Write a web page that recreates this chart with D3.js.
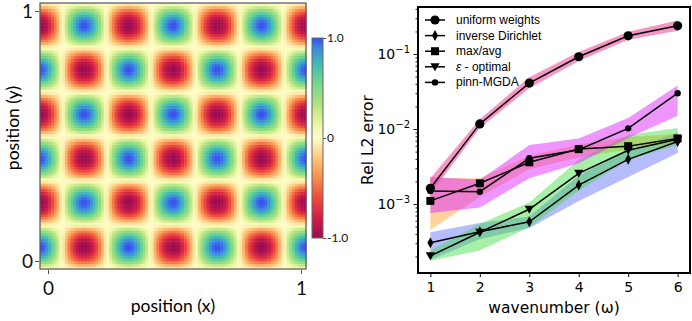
<!DOCTYPE html>
<html lang="en">
<head>
<meta charset="UTF-8">
<title>wavenumber error</title>
<style>
*{margin:0;padding:0;}
body{background:#fff;}
svg{display:block;}
</style>
</head>
<body>
<div id="container"></div>
<script src="https://cdn.jsdelivr.net/npm/d3@7"></script>
<script>
// ---- right panel data ----
var wavenumbers = [1, 2, 3, 4, 5, 6]
var xTickLabels = ['1', '2', '3', '4', '5', '6']
var uniformMean = [1.62e-3, 1.17e-2, 4.1e-2, 9.2e-2, 0.175, 0.238]
var uniformLow  = [1.35e-3, 1.03e-2, 3.5e-2, 8.1e-2, 0.155, 0.205]
var uniformHigh = [2.2e-3, 1.35e-2, 4.9e-2, 0.106, 0.198, 0.28]
var invDirMean  = [3.05e-4, 4.27e-4, 5.8e-4, 1.79e-3, 3.94e-3, 6.8e-3]
var invDirLow   = [1.8e-4, 3.4e-4, 4.8e-4, 1.1e-3, 2.3e-3, 4.8e-3]
var invDirHigh  = [4.2e-4, 5.6e-4, 6.8e-4, 2.4e-3, 5.2e-3, 9.0e-3]
var maxAvgMean  = [1.1e-3, 1.89e-3, 3.6e-3, 5.4e-3, 5.9e-3, 7.5e-3]
var maxAvgLow   = [4.5e-4, 1.25e-3, 2.9e-3, 4.2e-3, 5.3e-3, 6.5e-3]
var maxAvgHigh  = [2.2e-3, 2.2e-3, 4.4e-3, 6.2e-3, 7.8e-3, 8.6e-3]
var epsOptMean  = [2.03e-4, 4.2e-4, 8.5e-4, 2.56e-3, 5.2e-3, 7.3e-3]
var epsOptLow   = [1.75e-4, 2.4e-4, 4.9e-4, 1.5e-3, 3.9e-3, 6.1e-3]
var epsOptHigh  = [2.4e-4, 5.4e-4, 1.05e-3, 3.9e-3, 8.3e-3, 1.03e-2]
var pinnMean    = [1.49e-3, 1.46e-3, 4.07e-3, 5.3e-3, 1.02e-2, 3.0e-2]
var pinnLow     = [7.6e-4, 9.0e-4, 2.2e-3, 3.5e-3, 7.6e-3, 1.5e-2]
var pinnHigh    = [2.3e-3, 2.1e-3, 6.1e-3, 7.5e-3, 1.4e-2, 3.8e-2]
var seriesNames = ['uniform weights', 'inverse Dirichlet', 'max/avg', 'ε - optimal', 'pinn-MGDA']
var yMajorTicks = [1e-3, 1e-2, 1e-1]

// ---- left panel: field u(x,y) = cos(3*2πx) sin(3*2πy) ----
var fieldFreq = [3, 3]
var gridN = 96
var heatTicks = [0, 1]
var cbarTicks = [1, 0, -1]
var cbarTickLabels = ['1.0', '0', '-1.0']

var W = 692, H = 321
var svg = d3.select('#container').append('svg').attr('width', W).attr('height', H)

// ================= left heatmap =================
var hx = d3.scaleLinear().domain([0, 1]).range([40, 306])
var hy = d3.scaleLinear().domain([0, 1]).range([269, 3])
var hxTick = d3.scaleLinear().domain([0, 1]).range([48, 301])
var hyTick = d3.scaleLinear().domain([0, 1]).range([261, 11])

var cmap = d3.scaleLinear()
	.domain([-1, -0.8, -0.6, -0.38, -0.15, 0, 0.15, 0.35, 0.55, 0.75, 0.9, 1])
	.range(['#9a0b52', '#cf1d45', '#ee4b3e', '#f8924f', '#fdd58c', '#fffdc8', '#e8f6a0', '#addf7f', '#72d98a', '#42b8b6', '#3b88e0', '#3a4cf0'])
	.interpolate(d3.interpolateRgb)

var cells = []
d3.range(gridN).forEach(function(j){
	d3.range(gridN).forEach(function(i){
		var xv = (i + 0.5) / gridN, yv = (j + 0.5) / gridN
		cells.push({i: i, j: j, v: Math.cos(2 * Math.PI * fieldFreq[0] * xv) * Math.sin(2 * Math.PI * fieldFreq[1] * yv)})
	})
})
var cw = (hx(1) - hx(0)) / gridN, ch = (hy(0) - hy(1)) / gridN
svg.append('g').selectAll('rect').data(cells).enter().append('rect')
	.attr('x', function(d){return hx(d.i / gridN)})
	.attr('y', function(d){return hy((d.j + 1) / gridN)})
	.attr('width', cw + 0.5)
	.attr('height', ch + 0.5)
	.attr('fill', function(d){return cmap(d.v)})

svg.append('rect').attr('x', 40).attr('y', 3).attr('width', 266).attr('height', 266)
	.attr('fill', 'none').attr('stroke', '#555').attr('stroke-width', 1.2)

var hxAxis = svg.append('g').attr('transform', 'translate(0,270)')
	.call(d3.axisBottom(hxTick).tickValues(heatTicks).tickSize(4).tickFormat(d3.format('d')))
var hyAxis = svg.append('g').attr('transform', 'translate(39,0)')
	.call(d3.axisLeft(hyTick).tickValues(heatTicks).tickSize(4).tickFormat(d3.format('d')))
;[hxAxis, hyAxis].forEach(function(a){
	a.select('.domain').remove()
	a.selectAll('line').attr('stroke', '#555')
	a.selectAll('text').attr('font-family', 'Lato, sans-serif').attr('font-size', 19).attr('fill', '#111')
})
hxAxis.selectAll('text').attr('dy', '0.95em')
hyAxis.selectAll('text').attr('x', -6).attr('dy', '0.35em')

svg.append('text').attr('x', 173).attr('y', 312).attr('text-anchor', 'middle')
	.attr('font-family', 'Lato, sans-serif').attr('font-size', 17.5).text('position (x)')
svg.append('text').attr('transform', 'translate(19,128) rotate(-90)').attr('text-anchor', 'middle')
	.attr('font-family', 'Lato, sans-serif').attr('font-size', 17.5).text('position (y)')

// colorbar
var cby = d3.scaleLinear().domain([-1, 1]).range([238, 38])
var defs = svg.append('defs')
var grad = defs.append('linearGradient').attr('id', 'cbar').attr('x1', 0).attr('y1', 1).attr('x2', 0).attr('y2', 0)
cmap.domain().forEach(function(v){
	grad.append('stop').attr('offset', (v + 1) / 2).attr('stop-color', cmap(v))
})
svg.append('rect').attr('x', 312).attr('y', 38).attr('width', 11).attr('height', 200)
	.attr('fill', 'url(#cbar)').attr('stroke', '#666').attr('stroke-width', 1)
var cbAxis = svg.append('g').attr('transform', 'translate(323,0)')
	.call(d3.axisRight(cby).tickValues(cbarTicks).tickSize(3).tickFormat(function(d, i){return cbarTickLabels[i]}))
cbAxis.select('.domain').remove()
cbAxis.selectAll('line').attr('stroke', '#555')
cbAxis.selectAll('text').attr('x', 4).attr('font-family', 'Lato, sans-serif').attr('font-size', 12).attr('fill', '#111')

// ================= right line chart =================
var x = d3.scaleLinear().domain([0.75, 6.25]).range([418, 690])
var y = d3.scaleLog().domain([Math.pow(10, -3.92), Math.pow(10, -0.373)]).range([273, 7])

var series = [
	{name: seriesNames[0], mean: uniformMean, lo: uniformLow, hi: uniformHigh, fill: '#f0509f', op: 0.6, marker: 'bigcircle'},
	{name: seriesNames[1], mean: invDirMean, lo: invDirLow, hi: invDirHigh, fill: '#5b6cff', op: 0.45, marker: 'diamond'},
	{name: seriesNames[2], mean: maxAvgMean, lo: maxAvgLow, hi: maxAvgHigh, fill: '#ffa83c', op: 0.5, marker: 'square'},
	{name: seriesNames[3], mean: epsOptMean, lo: epsOptLow, hi: epsOptHigh, fill: '#3fdc3f', op: 0.45, marker: 'tridown'},
	{name: seriesNames[4], mean: pinnMean, lo: pinnLow, hi: pinnHigh, fill: '#e02cff', op: 0.5, marker: 'smallcircle'}
]

var plot = svg.append('g')
var area = d3.area().x(function(d){return x(d.x)}).y0(function(d){return y(d.lo)}).y1(function(d){return y(d.hi)})
var line = d3.line().x(function(d){return x(d.x)}).y(function(d){return y(d.v)})

series.forEach(function(s){
	var pts = wavenumbers.map(function(w, i){return {x: w, lo: s.lo[i], hi: s.hi[i]}})
	plot.append('path').attr('d', area(pts)).attr('fill', s.fill).attr('fill-opacity', s.op).attr('stroke', 'none')
})

function markerPath(type){
	if(type == 'bigcircle') return d3.symbol().type(d3.symbolCircle).size(Math.PI * 4.6 * 4.6)()
	if(type == 'smallcircle') return d3.symbol().type(d3.symbolCircle).size(Math.PI * 3.2 * 3.2)()
	if(type == 'square') return 'M-4,-4L4,-4L4,4L-4,4Z'
	if(type == 'diamond') return 'M0,-5.5L3,0L0,5.5L-3,0Z'
	if(type == 'tridown') return 'M-4.6,-3.6L4.6,-3.6L0,4.4Z'
}

series.forEach(function(s){
	var pts = wavenumbers.map(function(w, i){return {x: w, v: s.mean[i]}})
	plot.append('path').attr('d', line(pts)).attr('fill', 'none').attr('stroke', '#000').attr('stroke-width', 1.5)
	plot.selectAll(null).data(pts).enter().append('path')
		.attr('d', markerPath(s.marker))
		.attr('transform', function(d){return 'translate(' + x(d.x) + ',' + y(d.v) + ')'})
		.attr('fill', '#000')
})

// frame
svg.append('rect').attr('x', 418).attr('y', 7).attr('width', 272).attr('height', 266)
	.attr('fill', 'none').attr('stroke', '#000').attr('stroke-width', 2)

// x axis
var xAxis = svg.append('g').attr('transform', 'translate(0,273)')
	.call(d3.axisBottom(x).tickValues(wavenumbers).tickSize(4).tickFormat(function(d, i){return xTickLabels[i]}))
xAxis.select('.domain').remove()
xAxis.selectAll('line').attr('stroke', '#000')
xAxis.selectAll('text').attr('font-family', 'DejaVu Sans, sans-serif').attr('font-size', 14).attr('fill', '#000').attr('dy', '0.85em')
svg.append('text').attr('x', 554).attr('y', 313).attr('text-anchor', 'middle')
	.attr('font-family', 'DejaVu Sans, sans-serif').attr('font-size', 15.5).text('wavenumber (ω)')

// y axis: major + minor ticks
var minorTicks = []
d3.range(-4, 0).forEach(function(e){
	d3.range(2, 10).forEach(function(m){
		var v = m * Math.pow(10, e)
		if(v >= y.domain()[0] && v <= y.domain()[1]) minorTicks.push(v)
	})
})
var yMinor = svg.append('g').attr('transform', 'translate(418,0)')
	.call(d3.axisLeft(y).tickValues(minorTicks).tickSize(2.5).tickFormat(''))
var yMajor = svg.append('g').attr('transform', 'translate(418,0)')
	.call(d3.axisLeft(y).tickValues(yMajorTicks).tickSize(4.5).tickFormat(''))
;[yMinor, yMajor].forEach(function(a){
	a.select('.domain').remove()
	a.selectAll('line').attr('stroke', '#000').attr('stroke-width', 0.9)
})
yMajorTicks.forEach(function(v){
	var t = svg.append('text').attr('x', 410).attr('y', y(v) + 5).attr('text-anchor', 'end')
		.attr('font-family', 'DejaVu Sans, sans-serif').attr('font-size', 14).attr('fill', '#000')
	t.append('tspan').text('10')
	t.append('tspan').attr('dy', -6).attr('font-size', 10).text('−' + Math.round(-Math.log10(v)))
})
svg.append('text').attr('transform', 'translate(373,140) rotate(-90)').attr('text-anchor', 'middle')
	.attr('font-family', 'DejaVu Sans, sans-serif').attr('font-size', 15.5).text('Rel L2 error')

// legend
var leg = svg.append('g')
series.forEach(function(s, i){
	var ly = 20 + i * 15.6
	leg.append('line').attr('x1', 425).attr('x2', 445).attr('y1', ly).attr('y2', ly).attr('stroke', '#000').attr('stroke-width', 1.5)
	leg.append('path').attr('d', markerPath(s.marker)).attr('transform', 'translate(435,' + ly + ')').attr('fill', '#000')
	var t = leg.append('text').attr('x', 456).attr('y', ly + 4).attr('font-family', 'Liberation Sans, Arial, sans-serif').attr('font-size', 12)
	if(s.name.charAt(0) == 'ε'){
		t.append('tspan').attr('font-style', 'italic').text('ε')
		t.append('tspan').text(s.name.slice(1))
	} else t.text(s.name)
})
</script>
</body>
</html>
